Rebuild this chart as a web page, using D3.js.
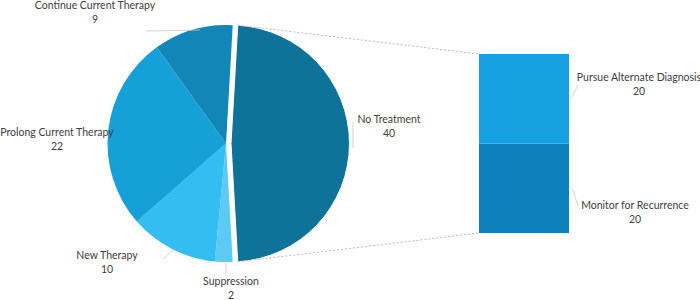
<!DOCTYPE html>
<html><head><meta charset="utf-8">
<script src="https://cdn.jsdelivr.net/npm/d3@7"></script>
<style>body{margin:0;background:#fff}svg{display:block}text{font-family:Lato,"Open Sans",sans-serif;font-size:10.5px;fill:#404040}</style>
</head><body><svg id="c" width="700" height="300"></svg>
<script>
const pieCategories = ["No Treatment","Suppression","New Therapy","Prolong Current Therapy","Continue Current Therapy"];
const pieValues = [40,2,10,22,9];
const barCategories = ["Monitor for Recurrence","Pursue Alternate Diagnosis"];
const barValues = [20,20];

const pieColors = ["#0f7399","#5ccaf3","#33bdf1","#16a0d8","#1286b7"];
const barColors = ["#0e80bc","#14a0e1"];
// label anchor (centre of first line) and leader line per slice
const pieLabelPos = [[389,123],[231,285],[107,259],[57,136],[95,9]];
const pieLeaders = [[[353,122],[353,148]],[[226,263],[226,276]],[[163,259],[173,250]],null,[[146,31],[200,30]]];
const barLabelPos = [[635,209],[639,81]];
const barLeaders = [[[569,186],[573,190],[578,206]],[[569,100],[573,95],[578,85]]];

const svg = d3.select("#c");
const cx = 226, cy = 143.5, r = 118.5, explode = 5;
const total = d3.sum(pieValues);
const a0 = Math.PI/2 - (pieValues[0]/total)*Math.PI;
const pie = d3.pie().sort(null).startAngle(a0).endAngle(a0 + 2*Math.PI);
const arcs = pie(pieValues);
const arc = d3.arc().innerRadius(0).outerRadius(r);

const g = svg.append("g").attr("transform",`translate(${cx},${cy})`);
g.selectAll("path").data(arcs).join("path")
  .attr("d",arc)
  .attr("fill",(d,i)=>pieColors[i])
  .attr("stroke",(d,i)=>i===0?"#fff":"none").attr("stroke-width",1)
  .attr("transform",(d,i)=>{
    if(i!==0) return null;
    const m=(d.startAngle+d.endAngle)/2;
    return `translate(${explode*Math.sin(m)},${-explode*Math.cos(m)})`;
  });

// bar
const bx0 = 479, bx1 = 569;
const y = d3.scaleLinear().domain([0,d3.sum(barValues)]).range([233,54]);
let acc = 0;
const stacks = barValues.map(v=>{const s={y0:acc,y1:acc+v};acc+=v;return s;});
svg.selectAll("rect.bar").data(stacks).join("rect").attr("class","bar")
  .attr("x",bx0).attr("width",bx1-bx0)
  .attr("y",d=>y(d.y1)).attr("height",d=>y(d.y0)-y(d.y1))
  .attr("fill",(d,i)=>barColors[i]);

// connector dashed lines
const nt = arcs[0];
const ptTop = [cx+explode*Math.sin((nt.startAngle+nt.endAngle)/2)+r*Math.sin(nt.startAngle), cy - r*Math.cos(nt.startAngle)];
const ptBot = [cx+explode*Math.sin((nt.startAngle+nt.endAngle)/2)+r*Math.sin(nt.endAngle), cy - r*Math.cos(nt.endAngle)];
[[ptTop,[bx0,y(d3.sum(barValues))]],[ptBot,[bx0,y(0)]]].forEach(p=>{
  svg.append("line").attr("x1",p[0][0]).attr("y1",p[0][1]).attr("x2",p[1][0]).attr("y2",p[1][1])
    .attr("stroke","#a6a6a6").attr("stroke-width",0.8).attr("stroke-dasharray","2,2");
});

// leaders
const line = d3.line();
pieLeaders.concat(barLeaders).forEach(l=>{ if(l) svg.append("path").attr("d",line(l)).attr("fill","none").attr("stroke","#c8c8c8").attr("stroke-width",0.8);});

// labels
function label(name,val,pos){
  const t = svg.append("text").attr("text-anchor","middle").attr("x",pos[0]).attr("y",pos[1]);
  t.append("tspan").attr("x",pos[0]).text(name);
  t.append("tspan").attr("x",pos[0]).attr("dy",13.5).text(val);
}
pieCategories.forEach((c,i)=>label(c,pieValues[i],pieLabelPos[i]));
barCategories.forEach((c,i)=>label(c,barValues[i],barLabelPos[i]));
</script></body></html>
